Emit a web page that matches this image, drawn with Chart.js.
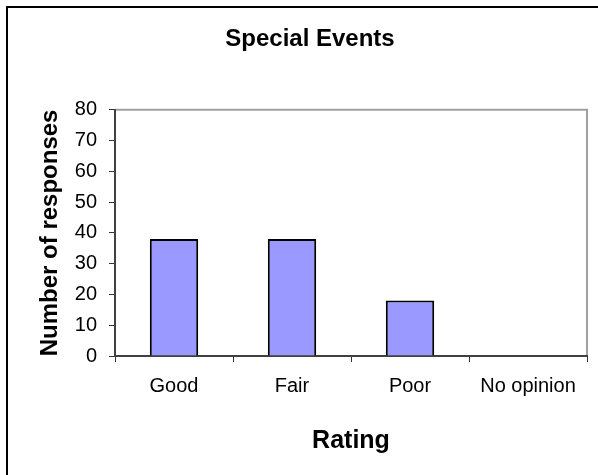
<!DOCTYPE html>
<html>
<head>
<meta charset="utf-8">
<script src="https://cdn.jsdelivr.net/npm/chart.js"></script>
<style>
  html, body { margin: 0; padding: 0; background: #fff; }
  #wrap { width: 598px; height: 475px; }
</style>
</head>
<body>
<div id="wrap"><canvas id="chart" width="598" height="475"></canvas></div>
<script>
const categories = ['Good', 'Fair', 'Poor', 'No opinion'];
const responses = [38, 38, 18, 0];
const yMin = 0;
const yMax = 80;
const yStep = 10;

const fontFam = '"Liberation Sans", Arial, Helvetica, sans-serif';

// outer frame + grey plot-area border (top/right)
const frame = {
  id: 'frame',
  beforeDraw(chart) {
    const c = chart.ctx;
    c.save();
    c.strokeStyle = '#000';
    c.lineWidth = 2;
    c.beginPath();
    c.moveTo(7, 475);
    c.lineTo(7, 7);
    c.lineTo(598, 7);
    c.stroke();
    const a = chart.chartArea;
    c.strokeStyle = '#a0a0a0';
    c.lineWidth = 2;
    c.beginPath();
    c.moveTo(a.left, a.top);
    c.lineTo(a.right, a.top);
    c.lineTo(a.right, a.bottom);
    c.stroke();
    c.restore();
  }
};

new Chart(document.getElementById('chart'), {
  type: 'bar',
  data: {
    labels: categories,
    datasets: [{
      label: 'Number of responses',
      data: responses,
      backgroundColor: '#9999ff',
      borderColor: '#000',
      borderWidth: 2,
      categoryPercentage: 1,
      barPercentage: 0.41
    }]
  },
  options: {
    responsive: false,
    animation: false,
    layout: { padding: { left: 33, right: 11, top: 0, bottom: 0 } },
    plugins: {
      legend: { display: false },
      tooltip: { enabled: false },
      title: {
        display: true,
        text: 'Special Events',
        color: '#000',
        font: { family: fontFam, size: 24, weight: 'bold', lineHeight: 1.2 },
        padding: { top: 25, bottom: 56 }
      }
    },
    scales: {
      x: {
        grid: { offset: true, drawOnChartArea: false, drawTicks: true, tickLength: 6, color: '#333', lineWidth: 1 },
        border: { color: '#404040', width: 2 },
        ticks: { color: '#000', padding: 12, maxRotation: 0, font: { family: fontFam, size: 20 } },
        title: {
          display: true,
          text: 'Rating',
          color: '#000',
          font: { family: fontFam, size: 25, weight: 'bold', lineHeight: 1.2 },
          padding: { top: 0, bottom: 19 }
        },
        afterFit(scale) { scale.height = 119; }
      },
      y: {
        min: yMin,
        max: yMax,
        grid: { drawOnChartArea: false, drawTicks: true, tickLength: 6, color: '#333', lineWidth: 1 },
        border: { color: '#404040', width: 2 },
        ticks: { stepSize: yStep, color: '#000', padding: 12, font: { family: fontFam, size: 20 } },
        title: {
          display: true,
          text: 'Number of responses',
          color: '#000',
          font: { family: fontFam, size: 24, weight: 'bold', lineHeight: 1.2 },
          padding: { top: 3, bottom: 0 }
        },
        afterFit(scale) { scale.width = 82; }
      }
    }
  },
  plugins: [frame]
});
</script>
</body>
</html>
